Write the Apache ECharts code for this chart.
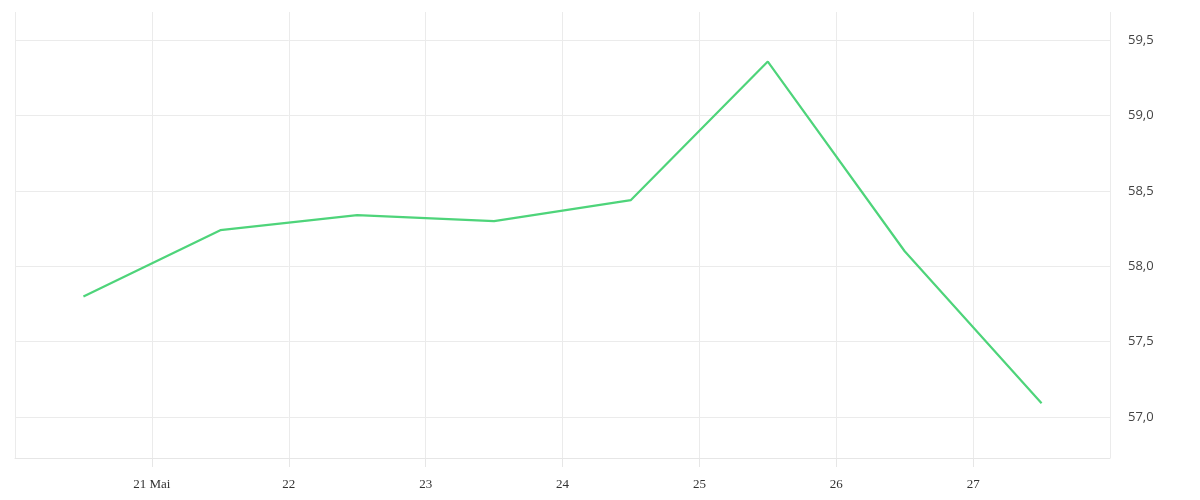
<!DOCTYPE html>
<html lang="de">
<head>
    <meta charset="UTF-8">
    <title>Chart</title>
    <script src="https://cdn.jsdelivr.net/npm/echarts@6/dist/echarts.min.js"></script>
    <style>
        html, body { margin: 0; padding: 0; background: #fff; }
        #main { width: 1200px; height: 500px; }
    </style>
</head>
<body>
<div id="main"></div>
<script>
    // Tage (Mitte des Tages) und Werte
    var days = [20.5, 21.5, 22.5, 23.5, 24.5, 25.5, 26.5, 27.5]
    var values = [57.80, 58.24, 58.34, 58.30, 58.44, 59.36, 58.10, 57.09]
    var monthLabel = 'Mai'

    var points = days.map(function (d, i) { return [d, values[i]] })

    var myChart = echarts.init(document.getElementById('main'))
    var option = {
        animation: false,
        grid: { left: 15, right: 90, top: 12, bottom: 42 },
        xAxis: {
            type: 'value',
            min: 20,
            max: 28,
            interval: 1,
            axisLine: { show: true, lineStyle: { color: '#e6e6e6' } },
            axisTick: { show: true, length: 9, lineStyle: { color: '#e6e6e6' } },
            splitLine: { show: true, lineStyle: { color: '#ebebeb' } },
            axisLabel: {
                showMinLabel: false,
                showMaxLabel: false,
                margin: 20,
                color: '#333',
                fontFamily: 'Liberation Serif',
                fontSize: 13,
                formatter: function (v) {
                    if (v === 21) return '21 ' + monthLabel
                    return String(v)
                }
            }
        },
        yAxis: {
            type: 'value',
            position: 'right',
            min: 56.727,
            max: 59.689,
            splitNumber: 6,
            axisLine: { show: false },
            axisTick: { show: false },
            splitLine: { show: true, showMaxLine: false, lineStyle: { color: '#ebebeb' } },
            axisLabel: {
                showMinLabel: false,
                showMaxLabel: false,
                margin: 18,
                padding: [4, 0, 0, 0],
                color: '#444',
                fontFamily: 'Open Sans',
                fontSize: 13,
                formatter: function (v) { return v.toFixed(1).replace('.', ',') }
            }
        },
        series: [
            {
                type: 'line',
                data: points,
                showSymbol: false,
                lineStyle: { color: '#4ed47a', width: 2.2 }
            }
        ]
    }
    myChart.setOption(option)
</script>
</body>
</html>
